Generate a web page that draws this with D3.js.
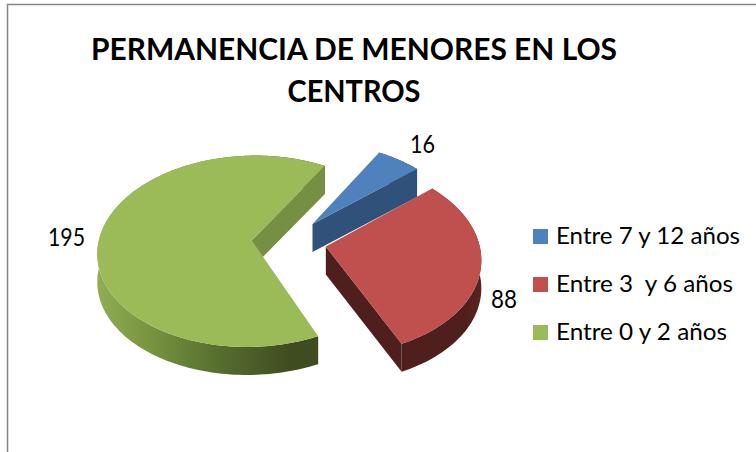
<!DOCTYPE html>
<html><head><meta charset="utf-8">
<script src="https://cdn.jsdelivr.net/npm/d3@7"></script>
<style>
html,body{margin:0;padding:0;background:#fff;overflow:hidden}
svg{display:block}
text{font-family:Lato,"Open Sans",sans-serif;fill:#000;white-space:pre}
</style></head><body>
<script>
// ---- data ----
const categories = ["Entre 7 y 12 años", "Entre 3  y 6 años", "Entre 0 y 2 años"];
const values = [16, 88, 195];
const titleLines = ["PERMANENCIA DE MENORES EN LOS", "CENTROS"];

// ---- styles ----
const topColors = ["#4F81BD", "#C0504D", "#9BBB59"];
const sideColors = ["#30527A", "#4F1F1D", "#778F43"];
const wallStops = [
  [["0", "#30527A"], ["1", "#30527A"]],
  [["0", "#4F1F1D"], ["0.8", "#4F1F1D"], ["1", "#5A2321"]],
  [["0", "#8FAE52"], ["0.25", "#76913F"], ["0.55", "#556C2E"], ["0.85", "#3F4C20"], ["1", "#3F4C20"]]
];

// ---- layout ----
const W = 756, H = 452;
const cx = 289, cy = 241.5, rx = 153, ry = 94.7, k = 0.114, depth = 28, explode = 0.245;
const firstAngle = 30.2 * Math.PI / 180;

const svg = d3.select("body").append("svg").attr("width", W).attr("height", H);
const defs = svg.append("defs");

// chart frame (only top and left edges fall within the picture)
svg.append("path").attr("d", `M7.5,${H}V4.5H${W}`).attr("fill", "none")
  .attr("stroke", "#868686").attr("stroke-width", 1.5);

// perspective projection of the pie disc
const project = (u, v, z = 0) => {
  const s = 1 / (1 - k * v);
  return [cx + rx * u * s, cy + ry * v * s + z * depth];
};
const line = d3.line();

const pie = d3.pie().sort(null).startAngle(firstAngle).endAngle(firstAngle + 2 * Math.PI);
const arcs = pie(values);

const sliceGeom = a => {
  const mid = (a.startAngle + a.endAngle) / 2;
  const ox = explode * Math.sin(mid), oy = -explode * Math.cos(mid);
  const n = Math.max(8, Math.round((a.endAngle - a.startAngle) * 40));
  const rim = d3.range(n + 1).map(i => {
    const t = a.startAngle + (a.endAngle - a.startAngle) * i / n;
    return [ox + Math.sin(t), oy - Math.cos(t)];
  });
  return { apex: [ox, oy], rim };
};

const P = (p, z) => project(p[0], p[1], z);

// draw back to front: green, blue, red
[2, 0, 1].forEach(i => {
  const g = svg.append("g");
  const { apex, rim } = sliceGeom(arcs[i]);
  const last = rim[rim.length - 1];

  // outer wall
  const xs = rim.map(p => P(p, 0)[0]);
  const grad = defs.append("linearGradient").attr("id", "wall" + i)
    .attr("gradientUnits", "userSpaceOnUse")
    .attr("x1", d3.min(xs)).attr("x2", d3.max(xs)).attr("y1", 0).attr("y2", 0);
  grad.selectAll("stop").data(wallStops[i]).join("stop")
    .attr("offset", d => d[0]).attr("stop-color", d => d[1]);
  const wall = rim.map(p => P(p, 0)).concat(rim.slice().reverse().map(p => P(p, 1)));
  g.append("path").attr("d", line(wall) + "Z").attr("fill", `url(#wall${i})`);

  // radial face that looks toward the viewer (the other one stays hidden)
  g.append("path")
    .attr("d", line([P(apex, 0), P(last, 0), P(last, 1), P(apex, 1)]) + "Z")
    .attr("fill", sideColors[i]);

  // top face
  const top = [P(apex, 0)].concat(rim.map(p => P(p, 0)));
  g.append("path").attr("d", line(top) + "Z").attr("fill", topColors[i]);
});

// data labels
const labelPos = [[410, 153], [491, 308], [48, 246]];
const labelW = [25, 26, 37];
svg.append("g").selectAll("text").data(values).join("text")
  .attr("x", (d, i) => labelPos[i][0]).attr("y", (d, i) => labelPos[i][1])
  .attr("font-size", 25)
  .attr("textLength", (d, i) => labelW[i]).attr("lengthAdjust", "spacingAndGlyphs")
  .text(d => d);

// title
const titleY = [59.5, 101.5], titleW = [526, 133];
svg.append("g").selectAll("text").data(titleLines).join("text")
  .attr("x", 354).attr("y", (d, i) => titleY[i])
  .attr("text-anchor", "middle").attr("font-size", 30).attr("font-weight", 700)
  .attr("textLength", (d, i) => titleW[i]).attr("lengthAdjust", "spacingAndGlyphs")
  .text(d => d);

// legend
const legendY = d3.scaleBand().domain(categories).range([229, 229 + 48 * 3]).paddingInner(0);
const legendW = [184, 177, 171];
const legend = svg.append("g").selectAll("g").data(categories).join("g")
  .attr("transform", d => `translate(533,${legendY(d)})`);
legend.append("rect").attr("width", 15).attr("height", 15).attr("fill", (d, i) => topColors[i]);
legend.append("text").attr("x", 23).attr("y", 15).attr("font-size", 23)
  .attr("textLength", (d, i) => legendW[i]).attr("lengthAdjust", "spacingAndGlyphs")
  .text(d => d);
</script>
</body></html>
